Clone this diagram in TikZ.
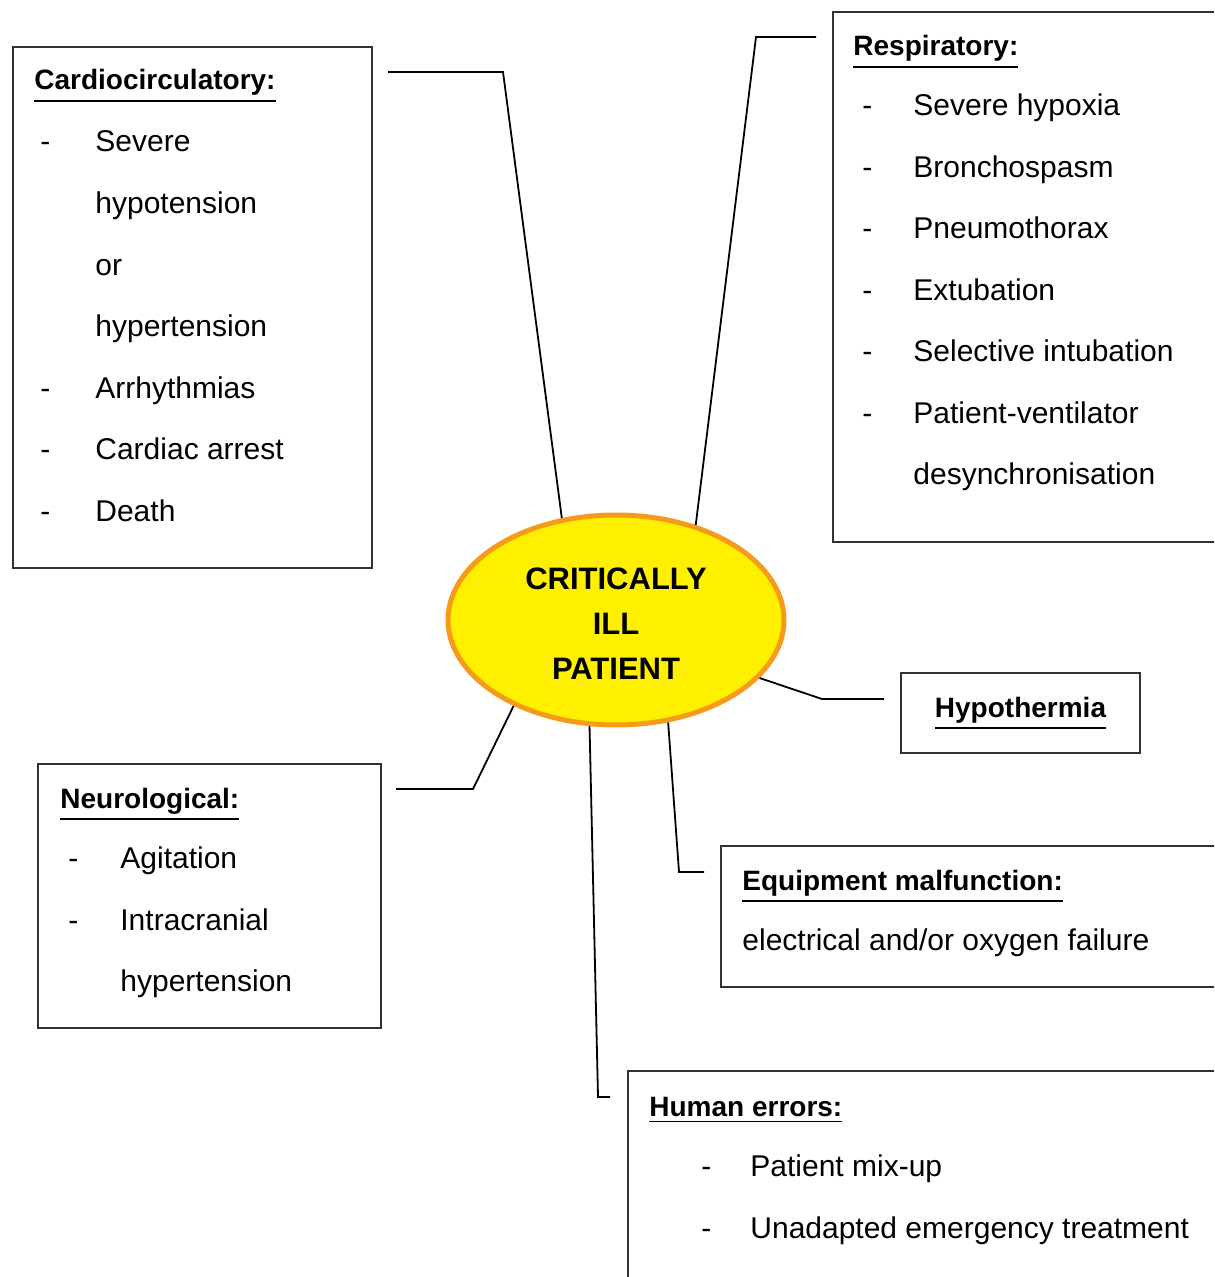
\documentclass[tikz,border=0pt]{standalone}
\usepackage{fontspec}
\setmainfont{Liberation Sans}
\usetikzlibrary{shapes.geometric}
\definecolor{ellfill}{RGB}{255,240,0}
\definecolor{ellline}{RGB}{245,155,25}
\definecolor{boxline}{RGB}{50,50,50}
\newcommand\hd[1]{\leavevmode\vtop{\hbox{#1}\kern2.2pt\hrule height 0.9pt}}
\begin{document}
\begin{tikzpicture}[x=0.5pt,y=-0.5pt,
  box/.style={draw=boxline,line width=1pt,anchor=north west,inner sep=0pt},
  txt/.style={anchor=base west,inner sep=0pt,font=\fontsize{15}{18}\selectfont},
  head/.style={anchor=base west,inner sep=0pt,font=\fontsize{14}{18}\selectfont\bfseries},
  link/.style={draw=black,line width=0.9pt}]
\clip (0,0) rectangle (1214,1277);
\useasboundingbox (0,0) rectangle (1214,1277);

% boxes
\node[box,minimum width=179.5pt,minimum height=260.5pt] (cardio) at (12,46) {};
\node[box,minimum width=200pt,minimum height=265pt] (resp) at (832,11) {};
\node[box,minimum width=119.5pt,minimum height=40pt,anchor=north west,
      font=\fontsize{14}{18}\selectfont\bfseries] (hypo) at (900,672) {\hd{Hypothermia}};
\node[box,minimum width=250pt,minimum height=70.5pt] (equip) at (720,845) {};
\node[box,minimum width=300pt,minimum height=110pt] (human) at (627,1070) {};
\node[box,minimum width=171.5pt,minimum height=132pt] (neuro) at (37,763) {};

% central ellipse
\node[ellipse,draw=ellline,fill=ellfill,line width=2.5pt,minimum width=168pt,
      minimum height=105pt,inner sep=0pt] (ell) at (616,620) {};
\node[align=center,inner sep=0pt,font=\fontsize{15.5}{22.5}\selectfont\bfseries]
      (elltext) at (616,624) {CRITICALLY\\ILL\\PATIENT};

% connectors
\coordinate (ca) at (388,72);  \coordinate (cb) at (503,72);
\draw[link] (ca) -- (cb) -- (ell.118.7);
\coordinate (ra) at (816,37);  \coordinate (rb) at (756,37);
\draw[link] (ra) -- (rb) -- (ell.50.4);
\coordinate (ha) at (884,699); \coordinate (hb) at (822,699);
\draw[link] (ha) -- (hb) -- (ell.-22.3);
\coordinate (ea) at (704,872); \coordinate (eb) at (679,872);
\draw[link] (ea) -- (eb) -- (ell.-63.2);
\coordinate (ua) at (610,1097); \coordinate (ub) at (598,1097);
\draw[link] (ua) -- (ub) -- (ell.-104.7);
\coordinate (na) at (396,789); \coordinate (nb) at (473,789);
\draw[link] (na) -- (nb) -- (ell.-140.9);

% Cardiocirculatory
\node[head] (c0) at (34,90) {\hd{Cardiocirculatory:}};
\node[txt] (cd1) at (40,152) {-};
\node[txt] (c1) at (95,152) {Severe};
\node[txt] (c2) at (95,214) {hypotension};
\node[txt] (c3) at (95,276) {or};
\node[txt] (c4) at (95,337) {hypertension};
\node[txt] (cd5) at (40,399) {-};
\node[txt] (c5) at (95,399) {Arrhythmias};
\node[txt] (cd6) at (40,460) {-};
\node[txt] (c6) at (95,460) {Cardiac arrest};
\node[txt] (cd7) at (40,521) {-};
\node[txt] (c7) at (95,521) {Death};

% Respiratory
\node[head] (r0) at (853,56) {\hd{Respiratory:}};
\node[txt] (rd1) at (862,116) {-};
\node[txt] (r1) at (913,116) {Severe hypoxia};
\node[txt] (rd2) at (862,178) {-};
\node[txt] (r2) at (913,178) {Bronchospasm};
\node[txt] (rd3) at (862,239) {-};
\node[txt] (r3) at (913,239) {Pneumothorax};
\node[txt] (rd4) at (862,301) {-};
\node[txt] (r4) at (913,301) {Extubation};
\node[txt] (rd5) at (862,362) {-};
\node[txt] (r5) at (913,362) {Selective intubation};
\node[txt] (rd6) at (862,424) {-};
\node[txt] (r6) at (913,424) {Patient-ventilator};
\node[txt] (r7) at (913,485) {desynchronisation};

% Neurological
\node[head] (n0) at (60,808) {\hd{Neurological:}};
\node[txt] (nd1) at (68,868) {-};
\node[txt] (n1) at (120,868) {Agitation};
\node[txt] (nd2) at (68,930) {-};
\node[txt] (n2) at (120,930) {Intracranial};
\node[txt] (n3) at (120,991) {hypertension};

% Equipment
\node[head] (e0) at (742,890) {\hd{Equipment malfunction:}};
\node[txt] (e1) at (742,950) {electrical and/or oxygen failure};

% Human errors
\node[head] (u0) at (649,1116) {\hd{Human errors:}};
\node[txt] (ud1) at (701,1176) {-};
\node[txt] (u1) at (750,1176) {Patient mix-up};
\node[txt] (ud2) at (701,1238) {-};
\node[txt] (u2) at (750,1238) {Unadapted emergency treatment};
\end{tikzpicture}
\end{document}
